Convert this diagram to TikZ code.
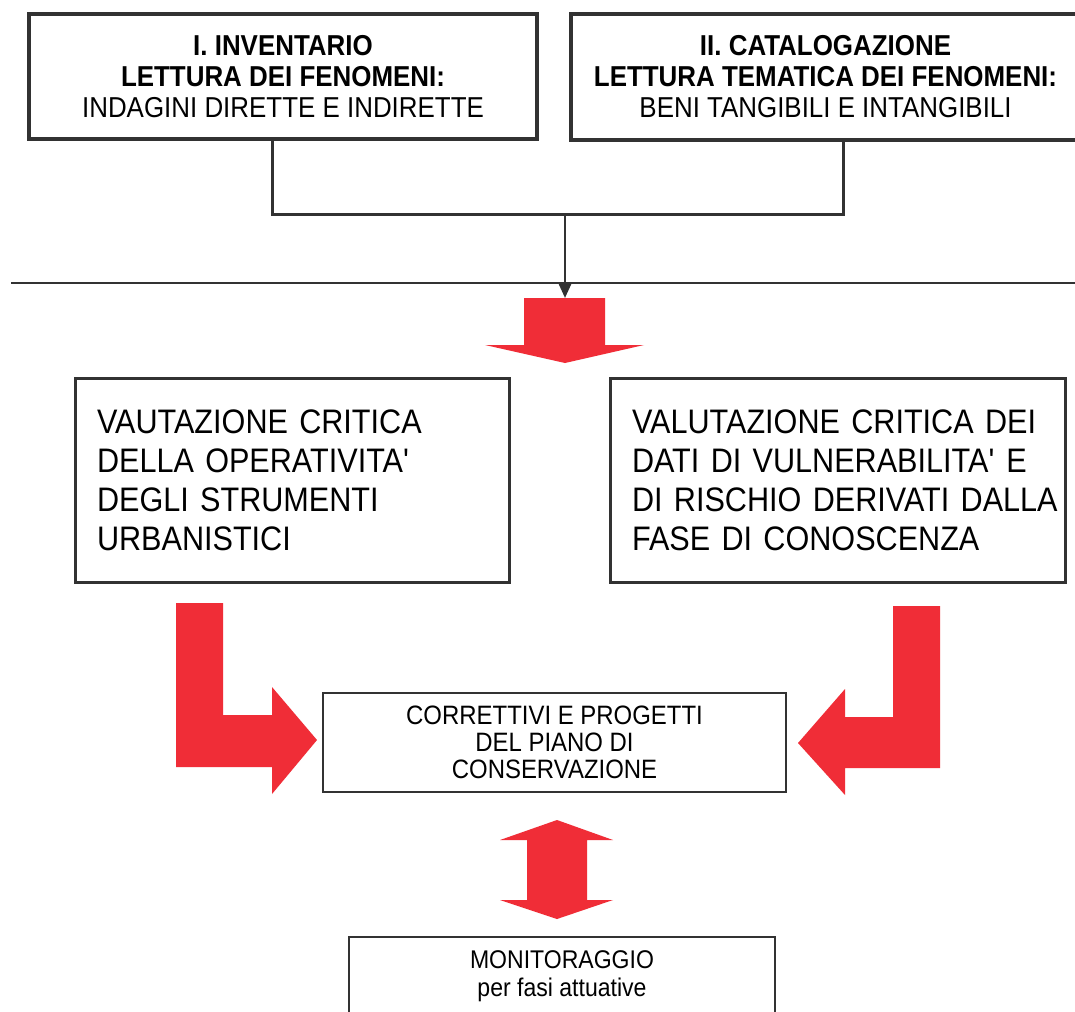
\documentclass[tikz,border=0pt]{standalone}
\usepackage{fontspec}
\setmainfont{Liberation Sans}[FakeStretch=0.9]
\usepackage{xcolor}
\usepackage{tikz}
\usetikzlibrary{positioning,calc,arrows.meta}
\definecolor{frecciarossa}{RGB}{240,45,55}
\definecolor{tratto}{RGB}{50,50,50}

\begin{document}
\begin{tikzpicture}[x=0.5pt,y=-0.5pt,
    fasebox/.style={draw=tratto, line width=2pt, align=center, inner sep=0pt,
        font=\fontsize{14.4pt}{15.5pt}\selectfont},
    valbox/.style={draw=tratto, line width=1.5pt, align=left, inner ysep=0pt, inner xsep=11pt,
        font=\fontsize{17pt}{19.5pt}\selectfont},
    piccolobox/.style={draw=tratto, line width=1pt, align=center, inner sep=0pt},
    linea/.style={draw=tratto, line width=1.5pt},
    rossa/.style={fill=frecciarossa, draw=none}]
    \useasboundingbox (0,0) rectangle (1075,1011);
    \fill[white] (0,0) rectangle (1075,1011);

    % Fasi di conoscenza
    \node[fasebox, minimum width=254pt, minimum height=62.5pt] (inv) at (283,76.5)
        {\textbf{I. INVENTARIO}\\ \textbf{LETTURA DEI FENOMENI:}\\ INDAGINI DIRETTE E INDIRETTE};
    \node[fasebox, minimum width=254.5pt, minimum height=63pt] (cat) at (825.5,77)
        {\textbf{II. CATALOGAZIONE}\\ \textbf{LETTURA TEMATICA DEI FENOMENI:}\\ BENI TANGIBILI E INTANGIBILI};

    % Raccordo e separatore
    \coordinate (join) at (565,214);
    \coordinate (rigaL) at (11,283);
    \coordinate (rigaR) at (1075,283);
    \draw[linea] ([xshift=-5.5pt]inv.south) |- (join) -| ([xshift=8.75pt]cat.south);
    \draw[draw=tratto, line width=1.2pt] (rigaL) -- (rigaR);

    % Freccia rossa in basso
    \coordinate (giu) at (565,298);
    \draw[tratto, line width=1.2pt, -{Triangle[length=7pt,width=6pt]}] (join) -- (giu);
    \fill[rossa] (524,298) -- (605,298) -- (605,345) -- (644,345) -- (565,363)
        -- (485,345) -- (524,345) -- cycle;

    % Valutazioni critiche
    \node[valbox, minimum width=217pt, minimum height=102pt, text width=195pt] (vaut) at (292,480)
        {\mbox{VAUTAZIONE CRITICA}\\ \mbox{DELLA OPERATIVITA\textquotesingle}\\ \mbox{DEGLI STRUMENTI}\\ URBANISTICI};
    \node[valbox, minimum width=227.5pt, minimum height=102pt, text width=205.5pt] (valu) at (837.5,480)
        {\mbox{VALUTAZIONE CRITICA DEI}\\ \mbox{DATI DI VULNERABILITA\textquotesingle{} E}\\ \mbox{DI RISCHIO DERIVATI DALLA}\\ \mbox{FASE DI CONOSCENZA}};

    % Correttivi
    \node[piccolobox, minimum width=231.5pt, minimum height=49.5pt,
        font=\fontsize{13.3pt}{13.5pt}\selectfont] (cor) at (554.5,742.5)
        {CORRETTIVI E PROGETTI\\ DEL PIANO DI\\ CONSERVAZIONE};

    % Frecce a L
    \fill[rossa] (176,603) -- (223,603) -- (223,715) -- (272,715) -- (272,687)
        -- (317,740) -- (272,794) -- (272,767) -- (176,767) -- cycle;
    \fill[rossa] (893,606) -- (940,606) -- (940,768) -- (845,768) -- (845,795)
        -- (798,743) -- (845,689) -- (845,717) -- (893,717) -- cycle;

    % Freccia doppia
    \fill[rossa] (557,820) -- (613,840) -- (587,840) -- (587,900) -- (613,900)
        -- (557,919) -- (500,900) -- (527,900) -- (527,840) -- (500,840) -- cycle;

    % Monitoraggio
    \node[piccolobox, minimum width=213pt, minimum height=39pt,
        font=\fontsize{12.8pt}{14pt}\selectfont] (mon) at (562,976)
        {MONITORAGGIO\\ per fasi attuative};
\end{tikzpicture}
\end{document}
